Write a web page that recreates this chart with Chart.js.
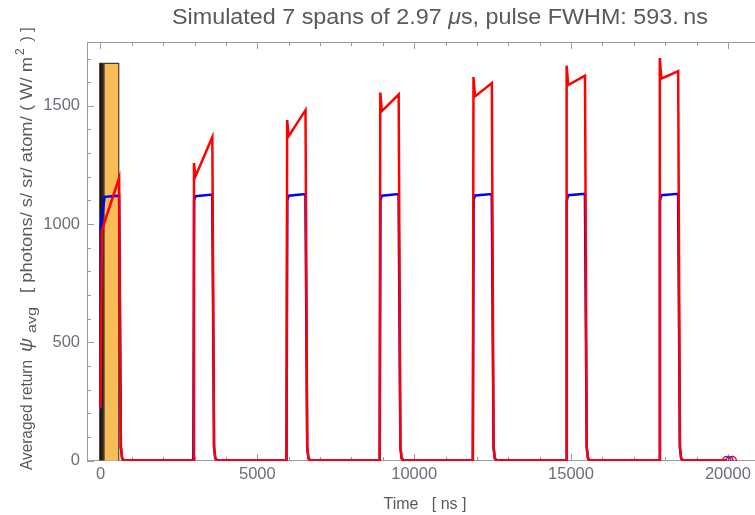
<!DOCTYPE html>
<html><head><meta charset="utf-8">
<script src="https://cdn.jsdelivr.net/npm/chart.js@4/dist/chart.umd.min.js"></script>
<style>html,body{margin:0;padding:0;background:#fff}canvas{display:block}</style>
</head><body>
<canvas id="c" width="755" height="515"></canvas>
<script>
// ---- data ----
const redTime = [
  0, 45, 595, 650, 690, 760,
  2960, 2980, 3030, 3565, 3620, 3660, 3730,
  5930, 5950, 6000, 6535, 6590, 6630, 6700,
  8900, 8920, 8970, 9505, 9560, 9600, 9670,
  11870, 11890, 11940, 12475, 12530, 12570, 12640,
  14840, 14860, 14910, 15445, 15500, 15540, 15610,
  17810, 17830, 17880, 18415, 18470, 18510, 18580,
  19950
];
const redValue = [
  220, 975, 1195, 60, 10, 0,
  0, 1258, 1202, 1368, 60, 10, 0,
  0, 1440, 1372, 1482, 60, 10, 0,
  0, 1556, 1478, 1548, 60, 10, 0,
  0, 1622, 1540, 1596, 60, 10, 0,
  0, 1670, 1588, 1628, 60, 10, 0,
  0, 1702, 1615, 1647, 60, 10, 0,
  0
];
const blueTime = [
  0, 10, 130, 592, 650, 690, 760,
  2960, 2985, 3030, 3562, 3620, 3660, 3730,
  5930, 5955, 6000, 6532, 6590, 6630, 6700,
  8900, 8925, 8970, 9502, 9560, 9600, 9670,
  11870, 11895, 11940, 12472, 12530, 12570, 12640,
  14840, 14865, 14910, 15442, 15500, 15540, 15610,
  17810, 17835, 17880, 18412, 18470, 18510, 18580,
  19950
];
const blueValue = [
  220, 985, 1115, 1120, 55, 8, 0,
  0, 1100, 1118, 1125, 55, 8, 0,
  0, 1100, 1120, 1127, 55, 8, 0,
  0, 1100, 1120, 1127, 55, 8, 0,
  0, 1100, 1121, 1127, 55, 8, 0,
  0, 1100, 1122, 1128, 55, 8, 0,
  0, 1100, 1122, 1128, 55, 8, 0,
  0
];
const pulseBoxTime = [-25, -25, 582, 582];
const pulseBoxValue = [0, 1680, 1680, 0];
const pulseDarkTime = [-25, -25, 140, 140];
const pulseDarkValue = [0, 1680, 1680, 0];
const redMarkerTime = [19960, 20140];
const redMarkerValue = [0, 0];
const blueMarkerTime = [20050];
const blueMarkerValue = [0];
const xTickLabels = [0, 5000, 10000, 15000, 20000];
const yTickLabels = [0, 500, 1000, 1500];
const xMinorStep = 1000;
const yMinorStep = 100;

const pts = (xs, ys) => xs.map((x, i) => ({x, y: ys[i]}));

const TEXT = '#595959';
const TICKTXT = '#6a6f78';
const FRAME = '#9a9a9a';
const FAM = '"Liberation Sans", Arial, sans-serif';

function drawFitted(ctx, text, x, y, targetW) {
  const w = ctx.measureText(text).width;
  ctx.save();
  ctx.translate(x, y);
  ctx.scale(targetW / w, 1);
  ctx.fillText(text, 0, 0);
  ctx.restore();
}

const framePlugin = {
  id: 'frame',
  beforeDatasetsDraw(chart) {
    const {ctx, chartArea: a, scales: {x, y}} = chart;
    ctx.save();
    ctx.strokeStyle = FRAME;
    ctx.lineWidth = 1;
    ctx.beginPath();
    ctx.moveTo(a.left + 0.5, a.top + 0.5);
    ctx.lineTo(chart.width, a.top + 0.5);
    ctx.moveTo(a.left + 0.5, a.top);
    ctx.lineTo(a.left + 0.5, a.bottom);
    ctx.moveTo(a.left, a.bottom - 0.5);
    ctx.lineTo(chart.width, a.bottom - 0.5);
    for (let v = 0; v <= x.max; v += xMinorStep) {
      const px = Math.round(x.getPixelForValue(v)) + 0.5;
      const len = (v % 5000 === 0) ? 7 : 4;
      ctx.moveTo(px, a.bottom); ctx.lineTo(px, a.bottom - len);
      ctx.moveTo(px, a.top); ctx.lineTo(px, a.top + len);
    }
    for (let v = 0; v <= y.max; v += yMinorStep) {
      const py = Math.round(y.getPixelForValue(v)) + 0.5;
      const len = (v % 500 === 0) ? 7 : 4;
      ctx.moveTo(a.left, py); ctx.lineTo(a.left + len, py);
    }
    ctx.stroke();
    ctx.restore();
  },
  afterDraw(chart) {
    const {ctx} = chart;
    ctx.save();
    ctx.fillStyle = TEXT;
    ctx.textBaseline = 'alphabetic';
    const tf = '22px ' + FAM;
    const tfi = 'italic 22px ' + FAM;
    const parts = [['Simulated 7 spans of 2.97 ', tf], ['\u03bc', tfi], ['s, pulse FWHM: 593.\u2009ns', tf]];
    let w = 0;
    parts.forEach(p => { ctx.font = p[1]; w += ctx.measureText(p[0]).width; });
    const scaleT = 536 / w;
    ctx.save();
    ctx.translate(172, 24);
    ctx.scale(scaleT, 1);
    let cx = 0;
    parts.forEach(p => { ctx.font = p[1]; ctx.fillText(p[0], cx, 0); cx += ctx.measureText(p[0]).width; });
    ctx.restore();
    ctx.font = '16px ' + FAM;
    ctx.textAlign = 'center';
    ctx.fillText('Time   [ ns ]', 425, 509);
    ctx.translate(32, 0);
    ctx.rotate(-Math.PI / 2);
    ctx.textAlign = 'left';
    ctx.font = '16px ' + FAM;
    drawFitted(ctx, 'Averaged return', -470, 0, 110);
    ctx.font = 'italic 18px ' + FAM;
    drawFitted(ctx, '\u03c8', -352, 0, 14);
    ctx.font = '13px ' + FAM;
    drawFitted(ctx, 'avg', -333, 4, 26);
    ctx.font = '16px ' + FAM;
    drawFitted(ctx, '[ photons/ s/ sr/ atom/ ( W/ m', -293, 0, 236);
    ctx.font = '12px ' + FAM;
    ctx.fillText('2', -55, -8);
    ctx.font = '16px ' + FAM;
    ctx.fillText(' ) ]', -46, 0);
    ctx.restore();
  }
};

const darkGrad = (ctx) => {
  const chart = ctx.chart;
  const xs = chart.scales && chart.scales.x;
  if (!xs || !chart.chartArea) return '#2a251d';
  const x0 = xs.getPixelForValue(pulseDarkTime[0]);
  const x1 = xs.getPixelForValue(pulseDarkTime[2]);
  if (!isFinite(x0) || !isFinite(x1) || x0 === x1) return '#2a251d';
  const g = chart.ctx.createLinearGradient(x0, 0, x1, 0);
  g.addColorStop(0, '#151412');
  g.addColorStop(0.55, '#2a251d');
  g.addColorStop(1, '#6e5630');
  return g;
};

new Chart(document.getElementById('c'), {
  type: 'line',
  data: {
    datasets: [
      {label: 'red', data: pts(redTime, redValue), borderColor: '#ff0000', borderWidth: 2.5, pointRadius: 0, tension: 0, fill: false, order: 0},
      {label: 'blue', data: pts(blueTime, blueValue), borderColor: '#0000ff', borderWidth: 2.5, pointRadius: 0, tension: 0, fill: false, order: 1},
      {label: 'rm', data: pts(redMarkerTime, redMarkerValue), showLine: false, pointRadius: 4, pointBorderWidth: 1.5, pointBorderColor: '#ff0000', pointBackgroundColor: 'rgba(0,0,0,0)', order: -1},
      {label: 'bm', data: pts(blueMarkerTime, blueMarkerValue), showLine: false, pointRadius: 3.5, pointBorderWidth: 1.5, pointBorderColor: '#3030ff', pointBackgroundColor: 'rgba(0,0,0,0)', order: -2},
      {label: 'dark', data: pts(pulseDarkTime, pulseDarkValue), borderWidth: 0, borderColor: 'rgba(0,0,0,0)', backgroundColor: darkGrad, fill: 'origin', pointRadius: 0, tension: 0, order: 2},
      {label: 'box', data: pts(pulseBoxTime, pulseBoxValue), borderWidth: 1.2, borderColor: '#4a3b22', backgroundColor: '#f8bd56', fill: 'origin', pointRadius: 0, tension: 0, order: 3}
    ]
  },
  options: {
    responsive: false,
    animation: false,
    devicePixelRatio: 1,
    layout: {padding: {top: 42, right: 0, left: 0, bottom: 0}},
    plugins: {legend: {display: false}, tooltip: {enabled: false}, title: {display: false}},
    scales: {
      x: {
        type: 'linear', min: -430, max: 20685,
        afterBuildTicks: s => { s.ticks = xTickLabels.map(v => ({value: v})); },
        afterFit: s => { s.height = 54; },
        grid: {display: false, drawTicks: false},
        border: {display: false},
        ticks: {color: TICKTXT, padding: 4, maxRotation: 0, autoSkip: false, font: {family: FAM, size: 16.5}, callback: v => String(v)}
      },
      y: {
        type: 'linear', min: -2, max: 1770,
        afterBuildTicks: s => { s.ticks = yTickLabels.map(v => ({value: v})); },
        afterFit: s => { s.width = 87; },
        grid: {display: false, drawTicks: false},
        border: {display: false},
        ticks: {color: TICKTXT, padding: 7, autoSkip: false, font: {family: FAM, size: 16.5}, callback: v => String(v)}
      }
    }
  },
  plugins: [framePlugin]
});
</script>
</body></html>
